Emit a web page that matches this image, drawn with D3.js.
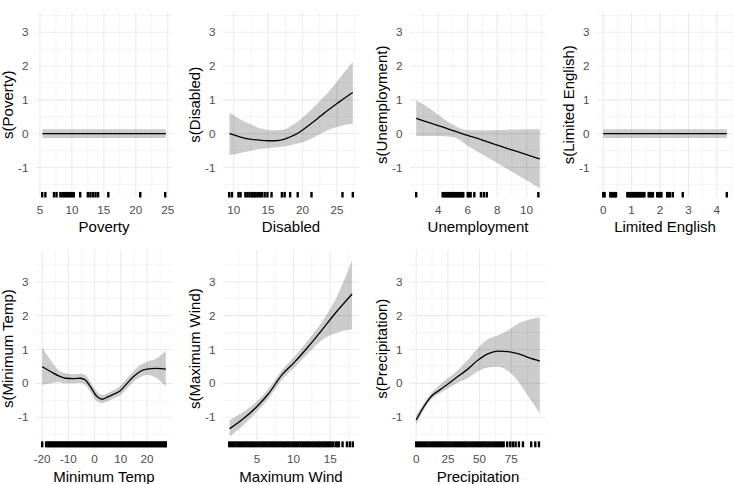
<!DOCTYPE html>
<html>
<head>
<meta charset="utf-8">
<script src="https://cdn.jsdelivr.net/npm/d3@7"></script>
<style>
  html, body { margin: 0; padding: 0; background: #ffffff; }
  svg { display: block; }
  text { font-family: "Liberation Sans", Arial, sans-serif; }
</style>
</head>
<body>
<svg id="chart" width="734" height="484"></svg>
<script>
// ---------------- DATA ----------------
const yTicks = [-1, 0, 1, 2, 3];

// Poverty
const povertyX = [5.4, 24.7];
const povertyFit = [0, 0];
const povertyLo = [-0.13, -0.13];
const povertyHi = [0.13, 0.13];
const povertyRug = [5.35, 5.85, 7.2, 7.6, 8.2, 8.5, 8.8, 9.1, 9.4, 9.7, 10.0, 10.3, 11.3, 12.5, 12.9, 13.3, 13.7, 14.1, 15.7, 20.7, 24.6];
const povertyTicks = [5, 10, 15, 20, 25];

// Disabled
const disabledX = [9.4, 11, 12.6, 14, 15, 16, 17.4, 18.5, 19.3, 20.3, 21.2, 22.2, 23.1, 24, 25, 26, 27.3];
const disabledFit = [0, -0.1, -0.17, -0.2, -0.21, -0.21, -0.16, -0.07, 0.01, 0.15, 0.29, 0.45, 0.6, 0.74, 0.89, 1.04, 1.22];
const disabledHi = [0.62, 0.42, 0.26, 0.15, 0.11, 0.1, 0.13, 0.25, 0.36, 0.52, 0.7, 0.9, 1.09, 1.29, 1.54, 1.8, 2.12];
const disabledLo = [-0.64, -0.57, -0.5, -0.45, -0.43, -0.41, -0.38, -0.33, -0.29, -0.24, -0.16, -0.05, 0.05, 0.13, 0.2, 0.25, 0.29];
const disabledRug = [9.35, 9.75, 10.7, 11.0, 11.7, 12.0, 12.3, 12.6, 12.8, 13.0, 13.2, 13.5, 13.8, 14.1, 14.5, 14.9, 15.5, 17.0, 17.4, 18.2, 19.3, 21.3, 25.8, 27.3];
const disabledTicks = [10, 15, 20, 25];

// Unemployment
const unempX = [2.5, 3.5, 4, 5, 6, 7, 8, 9, 10, 10.9];
const unempFit = [0.45, 0.31, 0.24, 0.09, -0.05, -0.19, -0.34, -0.48, -0.62, -0.75];
const unempHi = [0.99, 0.72, 0.56, 0.26, 0.1, 0.1, 0.11, 0.12, 0.13, 0.13];
const unempLo = [-0.07, -0.07, -0.07, -0.1, -0.36, -0.62, -0.87, -1.13, -1.38, -1.62];
const unempRug = [2.5, 4.3, 4.4, 4.5, 4.6, 4.7, 4.8, 4.9, 5.0, 5.1, 5.2, 5.3, 5.4, 5.5, 5.6, 5.7, 6.0, 6.1, 6.2, 6.45, 6.9, 7.1, 7.3, 10.8];
const unempTicks = [4, 6, 8, 10];

// Limited English
const englishX = [0, 4.35];
const englishFit = [0, 0];
const englishLo = [-0.13, -0.13];
const englishHi = [0.13, 0.13];
const englishRug = [0.0, 0.05, 0.25, 0.3, 0.35, 0.4, 0.45, 0.85, 0.9, 0.95, 1.0, 1.05, 1.1, 1.15, 1.2, 1.25, 1.3, 1.35, 1.4, 1.45, 1.6, 1.65, 1.7, 1.75, 1.9, 1.95, 2.0, 2.05, 2.25, 2.3, 2.35, 2.45, 2.8, 4.35];
const englishTicks = [0, 1, 2, 3, 4];

// Minimum Temp
const tempX = [-20, -16.8, -13.7, -11.1, -8, -5.4, -3.5, -1.6, 0.95, 2.9, 4.8, 7.3, 9.8, 12.4, 14.9, 17.4, 20, 23.8, 27.2];
const tempFit = [0.49, 0.35, 0.22, 0.15, 0.14, 0.15, 0.10, -0.1, -0.39, -0.47, -0.41, -0.32, -0.22, 0, 0.2, 0.35, 0.42, 0.44, 0.42];
const tempHi = [1.07, 0.69, 0.39, 0.30, 0.27, 0.28, 0.25, 0.05, -0.25, -0.35, -0.30, -0.20, -0.08, 0.15, 0.36, 0.54, 0.64, 0.74, 0.96];
const tempLo = [-0.05, 0, 0.04, 0, 0, 0.02, -0.05, -0.25, -0.54, -0.59, -0.54, -0.44, -0.35, -0.15, 0.05, 0.18, 0.25, 0.15, -0.1];
const tempRug = [-20, -18.5, -18, -17.5, -17, -16.5, -16, -15.5, -15, -14.5, -14, -13.5, -13, -12.5, -12, -11.5, -11, -10.5, -10, -9.5, -9, -8.5, -8, -7.5, -7, -6.5, -6, -5.5, -5, -4.5, -4, -3.5, -3, -2.5, -2, -1.5, -1, -0.5, 0, 0.5, 1, 1.5, 2, 2.5, 3, 3.5, 4, 4.5, 5, 5.5, 6, 6.5, 7, 7.5, 8, 8.5, 9, 9.5, 10, 10.5, 11, 11.5, 12, 12.5, 13, 13.5, 14, 14.5, 15, 15.5, 16, 16.5, 17, 17.5, 18, 18.5, 19, 19.5, 20, 20.5, 21, 21.5, 22, 22.5, 23, 23.5, 24, 24.5, 25, 25.5, 26, 26.5, 27, 27.2];
const tempTicks = [-20, -10, 0, 10, 20];

// Maximum Wind
const windX = [1.26, 3.17, 5.2, 6.6, 8.4, 10.2, 12.0, 13.9, 15.7, 18.0];
const windFit = [-1.34, -1.04, -0.64, -0.30, 0.25, 0.64, 1.08, 1.58, 2.07, 2.64];
const windHi = [-1.08, -0.84, -0.49, -0.15, 0.39, 0.81, 1.28, 1.82, 2.47, 3.63];
const windLo = [-1.58, -1.23, -0.79, -0.44, 0.10, 0.49, 0.89, 1.28, 1.48, 1.60];
const windRug = [1.2, 1.45, 1.7, 1.95, 2.2, 2.45, 2.7, 2.95, 3.2, 3.45, 3.7, 3.95, 4.2, 4.45, 4.7, 4.95, 5.2, 5.45, 5.7, 5.95, 6.2, 6.45, 6.7, 6.95, 7.2, 7.45, 7.7, 7.95, 8.2, 8.45, 8.7, 8.95, 9.2, 9.45, 9.7, 9.95, 10.2, 10.45, 10.7, 10.95, 11.2, 11.45, 11.7, 11.95, 12.2, 12.45, 12.7, 12.95, 13.2, 13.45, 13.7, 13.95, 14.2, 14.45, 14.7, 14.95, 15.2, 15.45, 15.8, 16.0, 16.2, 16.7, 17.3, 17.7, 18.1];
const windTicks = [5, 10, 15];

// Precipitation
const precipX = [0, 5.2, 11.8, 18.4, 25, 32.8, 40.7, 48.6, 56.5, 64.4, 72.3, 80.2, 88.1, 97.5];
const precipFit = [-1.08, -0.74, -0.39, -0.2, -0.02, 0.2, 0.42, 0.68, 0.87, 0.95, 0.94, 0.88, 0.77, 0.66];
const precipHi = [-0.94, -0.64, -0.3, -0.05, 0.15, 0.39, 0.69, 1.04, 1.3, 1.42, 1.56, 1.76, 1.87, 1.95];
const precipLo = [-1.23, -0.84, -0.47, -0.3, -0.15, 0.02, 0.16, 0.35, 0.47, 0.49, 0.37, 0.07, -0.37, -0.89];
const precipRug = [0, 1.5, 3, 4.5, 6, 7.5, 9, 10.5, 12, 13.5, 15, 16.5, 18, 19.5, 21, 22.5, 24, 25.5, 27, 28.5, 30, 31.5, 33, 34.5, 36, 37.5, 39, 40.5, 42, 43.5, 45, 46.5, 48, 49.5, 51, 52.5, 54, 55.5, 57, 58.5, 60, 61.5, 63, 64.5, 66, 67.5, 69, 71.8, 74.2, 76.3, 78.4, 81.0, 84.2, 90.7, 93.9, 96.8];
const precipTicks = [0, 25, 50, 75];

// Row y-limits
const rowYLimits = [[-1.89, 3.6], [-1.89, 3.94]];

// ---------------- LAYOUT ----------------
const colLeft = [36, 223, 410, 597];
const panelW = 136;
const rowBox = [{top: 12, bottom: 197.5}, {top: 250, bottom: 447.3}];

const panels = [
  {name: "Poverty", x: povertyX, fit: povertyFit, lo: povertyLo, hi: povertyHi, rug: povertyRug, ticks: povertyTicks, row: 0, col: 0},
  {name: "Disabled", x: disabledX, fit: disabledFit, lo: disabledLo, hi: disabledHi, rug: disabledRug, ticks: disabledTicks, row: 0, col: 1},
  {name: "Unemployment", x: unempX, fit: unempFit, lo: unempLo, hi: unempHi, rug: unempRug, ticks: unempTicks, row: 0, col: 2},
  {name: "Limited English", x: englishX, fit: englishFit, lo: englishLo, hi: englishHi, rug: englishRug, ticks: englishTicks, row: 0, col: 3},
  {name: "Minimum Temp", x: tempX, fit: tempFit, lo: tempLo, hi: tempHi, rug: tempRug, ticks: tempTicks, row: 1, col: 0},
  {name: "Maximum Wind", x: windX, fit: windFit, lo: windLo, hi: windHi, rug: windRug, ticks: windTicks, row: 1, col: 1},
  {name: "Precipitation", x: precipX, fit: precipFit, lo: precipLo, hi: precipHi, rug: precipRug, ticks: precipTicks, row: 1, col: 2}
];

const svg = d3.select("#chart");
svg.append("rect").attr("width", 734).attr("height", 484).attr("fill", "#ffffff");

const gridCol = "#EBEBEB";
const tickCol = "#4D4D4D";

panels.forEach((p, i) => {
  const left = colLeft[p.col];
  const right = left + panelW;
  const box = rowBox[p.row];
  const ext = d3.extent(p.x.concat(p.rug));
  const pad = 0.05 * (ext[1] - ext[0]);
  const x = d3.scaleLinear().domain([ext[0] - pad, ext[1] + pad]).range([left, right]);
  const y = d3.scaleLinear().domain(rowYLimits[p.row]).range([box.bottom, box.top]);
  const g = svg.append("g");

  const clipId = "clip" + i;
  svg.append("clipPath").attr("id", clipId).append("rect")
    .attr("x", left).attr("y", box.top).attr("width", panelW).attr("height", box.bottom - box.top);

  // minor grid
  const [d0, d1] = x.domain();
  const step = p.ticks[1] - p.ticks[0];
  const xMinor = [];
  xMinor.push(p.ticks[0] - step / 2);
  p.ticks.forEach(t => xMinor.push(t + step / 2));
  const yStep = yTicks[1] - yTicks[0];
  const yMinor = [yTicks[0] - yStep / 2].concat(yTicks.map(t => t + yStep / 2));
  const [yd0, yd1] = y.domain();

  g.selectAll(".xminor").data(xMinor.filter(v => v > d0 && v < d1)).enter().append("line")
    .attr("x1", d => x(d)).attr("x2", d => x(d)).attr("y1", box.top).attr("y2", box.bottom)
    .attr("stroke", gridCol).attr("stroke-width", 0.55);
  g.selectAll(".yminor").data(yMinor.filter(v => v > yd0 && v < yd1)).enter().append("line")
    .attr("x1", left).attr("x2", right).attr("y1", d => y(d)).attr("y2", d => y(d))
    .attr("stroke", gridCol).attr("stroke-width", 0.55);
  // major grid
  g.selectAll(".xmajor").data(p.ticks.filter(v => v >= d0 && v <= d1)).enter().append("line")
    .attr("x1", d => x(d)).attr("x2", d => x(d)).attr("y1", box.top).attr("y2", box.bottom)
    .attr("stroke", gridCol).attr("stroke-width", 1.1);
  g.selectAll(".ymajor").data(yTicks).enter().append("line")
    .attr("x1", left).attr("x2", right).attr("y1", d => y(d)).attr("y2", d => y(d))
    .attr("stroke", gridCol).attr("stroke-width", 1.1);

  const pts = p.x.map((xv, k) => ({x: xv, fit: p.fit[k], lo: p.lo[k], hi: p.hi[k]}));
  const inner = g.append("g").attr("clip-path", `url(#${clipId})`);
  inner.append("path").datum(pts)
    .attr("d", d3.area().curve(d3.curveMonotoneX).x(d => x(d.x)).y0(d => y(d.lo)).y1(d => y(d.hi)))
    .attr("fill", "rgba(0,0,0,0.2)");
  inner.append("path").datum(pts)
    .attr("d", d3.line().curve(d3.curveMonotoneX).x(d => x(d.x)).y(d => y(d.fit)))
    .attr("fill", "none").attr("stroke", "#000").attr("stroke-width", 1.3);

  // rug
  const rugLen = 0.03 * (box.bottom - box.top);
  g.selectAll(".rug").data(p.rug).enter().append("line")
    .attr("x1", d => x(d)).attr("x2", d => x(d))
    .attr("y1", box.bottom).attr("y2", box.bottom - rugLen)
    .attr("stroke", "#000").attr("stroke-width", 2.4);

  // y tick labels
  g.selectAll(".ylab").data(yTicks).enter().append("text")
    .attr("x", left - 7.5).attr("y", d => y(d)).attr("dy", "0.35em")
    .attr("text-anchor", "end").attr("font-size", 11.7).attr("fill", tickCol)
    .text(d => d);
  // x tick labels
  g.selectAll(".xlab").data(p.ticks).enter().append("text")
    .attr("x", d => x(d)).attr("y", box.bottom + 12).attr("dy", "0.35em")
    .attr("text-anchor", "middle").attr("font-size", 11.7).attr("fill", tickCol)
    .text(d => d);
  // titles
  g.append("text").attr("x", (left + right) / 2).attr("y", box.bottom + 29.5).attr("dy", "0.35em")
    .attr("text-anchor", "middle").attr("font-size", 15).attr("fill", "#000").text(p.name);
  const cy = (box.top + box.bottom) / 2;
  g.append("text").attr("transform", `translate(${left - 28.5},${cy}) rotate(-90)`)
    .attr("dy", "0.35em").attr("text-anchor", "middle").attr("font-size", 15).attr("fill", "#000")
    .text(`s(${p.name})`);
});
</script>
</body>
</html>
